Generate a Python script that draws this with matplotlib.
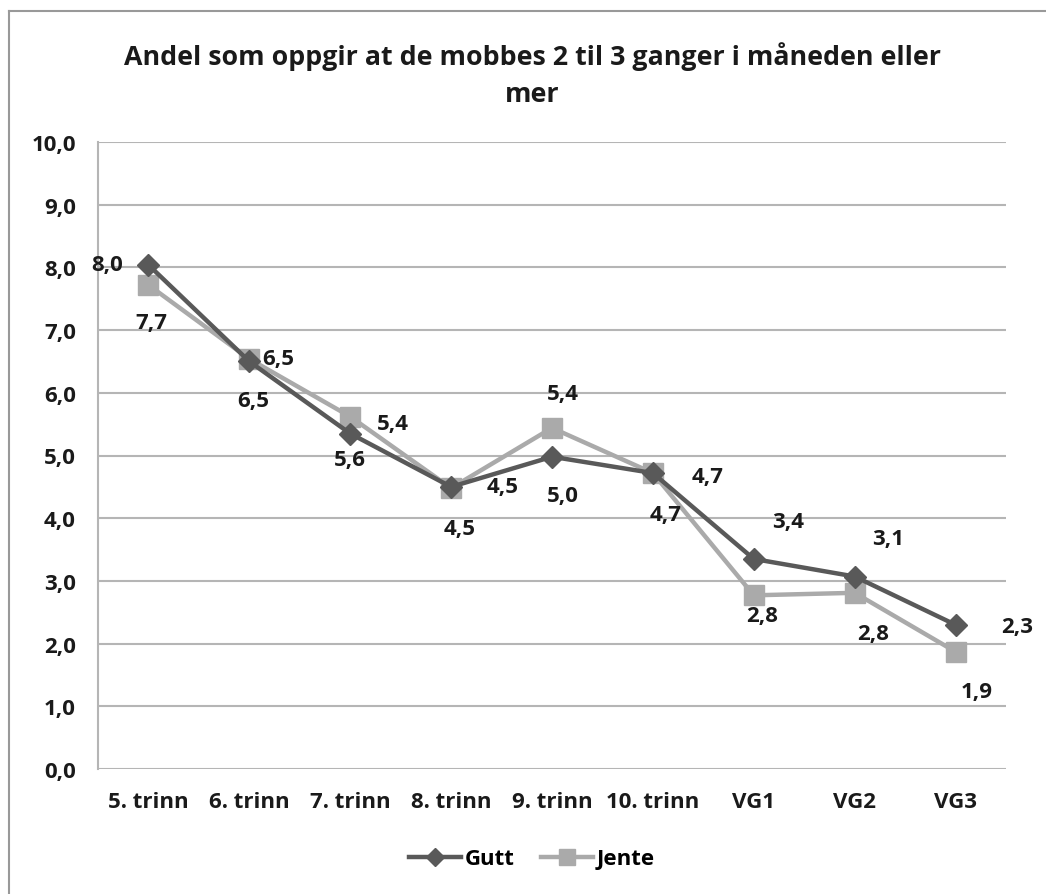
import matplotlib
matplotlib.use("Agg")
import matplotlib.pyplot as plt
from matplotlib.lines import Line2D

# ---- data ----
categories = ["5. trinn", "6. trinn", "7. trinn", "8. trinn", "9. trinn",
              "10. trinn", "VG1", "VG2", "VG3"]
gutt = [8.04, 6.5, 5.35, 4.5, 4.98, 4.72, 3.35, 3.07, 2.3]
jente = [7.72, 6.54, 5.62, 4.48, 5.44, 4.72, 2.77, 2.81, 1.87]
gutt_labels = ["8,0", "6,5", "5,4", "4,5", "5,0", "4,7", "3,4", "3,1", "2,3"]
jente_labels = ["7,7", "6,5", "5,6", "4,5", "5,4", "4,7", "2,8", "2,8", "1,9"]
yticks = [0, 1, 2, 3, 4, 5, 6, 7, 8, 9, 10]
ytick_labels = ["0,0", "1,0", "2,0", "3,0", "4,0", "5,0", "6,0", "7,0", "8,0", "9,0", "10,0"]
title = "Andel som oppgir at de mobbes 2 til 3 ganger i måneden eller\nmer"

# label offsets in pixels (dx, dy) — dy positive = downward
gutt_off = [(-41, 0), (29, -3), (43, -10), (52, 0), (11, 39), (55, 3), (34, -37), (33, -38), (62, 2)]
jente_off = [(3, 38), (4, 42), (0, 43), (9, 40), (11, -34), (13, 41), (8, 20), (18, 41), (21, 40)]

FONT = "Open Sans"
FS = 16
W, H = 1046, 895
fig = plt.figure(figsize=(W / 100, H / 100), dpi=100)
ax = fig.add_axes([98 / W, 1 - 770 / H, (1006 - 98) / W, (770 - 143) / H])

c_gutt = "#595959"
c_jente = "#aaaaaa"
x = list(range(len(categories)))
ax.plot(x, jente, color=c_jente, lw=3.2, marker="s", ms=14.5, mec=c_jente, mfc=c_jente, zorder=3)
ax.plot(x, gutt, color=c_gutt, lw=3.2, marker="D", ms=11, mec=c_gutt, mfc=c_gutt, zorder=4)

ax.set_xlim(-0.5, len(categories) - 0.5)
ax.set_ylim(0, 10)
ax.set_yticks(yticks)
ax.set_yticklabels(ytick_labels)
ax.set_xticks(x)
ax.set_xticklabels(categories)
for lab in ax.get_xticklabels() + ax.get_yticklabels():
    lab.set_fontfamily(FONT)
    lab.set_fontweight("bold")
    lab.set_fontsize(FS)
    lab.set_color("#1a1a1a")
ax.tick_params(axis="y", length=0, pad=16)
ax.tick_params(axis="x", length=0, pad=16)
ax.grid(axis="y", color="#b5b5b5", lw=1.5)
ax.set_axisbelow(True)
for s in ["top", "right", "bottom"]:
    ax.spines[s].set_visible(False)
ax.spines["left"].set_color("#b5b5b5")
ax.spines["left"].set_linewidth(1.5)

def lab(vals, labels, offs):
    for i, (v, t, (dx, dy)) in enumerate(zip(vals, labels, offs)):
        ax.annotate(t, (i, v), xytext=(dx * 0.72, -dy * 0.72), textcoords="offset points",
                    ha="center", va="center", fontsize=FS, fontweight="bold",
                    fontfamily=FONT, color="#1a1a1a", zorder=5, annotation_clip=False)

lab(gutt, gutt_labels, gutt_off)
lab(jente, jente_labels, jente_off)

fig.text(532 / W, 1 - 75 / H, title, ha="center", va="center", fontsize=19.3,
         fontweight="bold", fontfamily=FONT, color="#1a1a1a", linespacing=1.55)

handles = [Line2D([], [], color=c_gutt, lw=3.2, marker="D", ms=9),
           Line2D([], [], color=c_jente, lw=3.2, marker="s", ms=11)]
fig.legend(handles, ["Gutt", "Jente"], loc="center", bbox_to_anchor=(532 / W, 1 - 860 / H),
           ncol=2, frameon=False, handlelength=2.35, handletextpad=0.15, columnspacing=1.2,
           prop={"family": FONT, "weight": "bold", "size": FS})

# outer border
fig.add_artist(Line2D([9 / W, 9 / W], [0, 1 - 12 / H], color="#999999", lw=1.5, transform=fig.transFigure))
fig.add_artist(Line2D([9 / W, 1], [1 - 12 / H, 1 - 12 / H], color="#999999", lw=1.5, transform=fig.transFigure))

fig.savefig("out.png", dpi=100)
